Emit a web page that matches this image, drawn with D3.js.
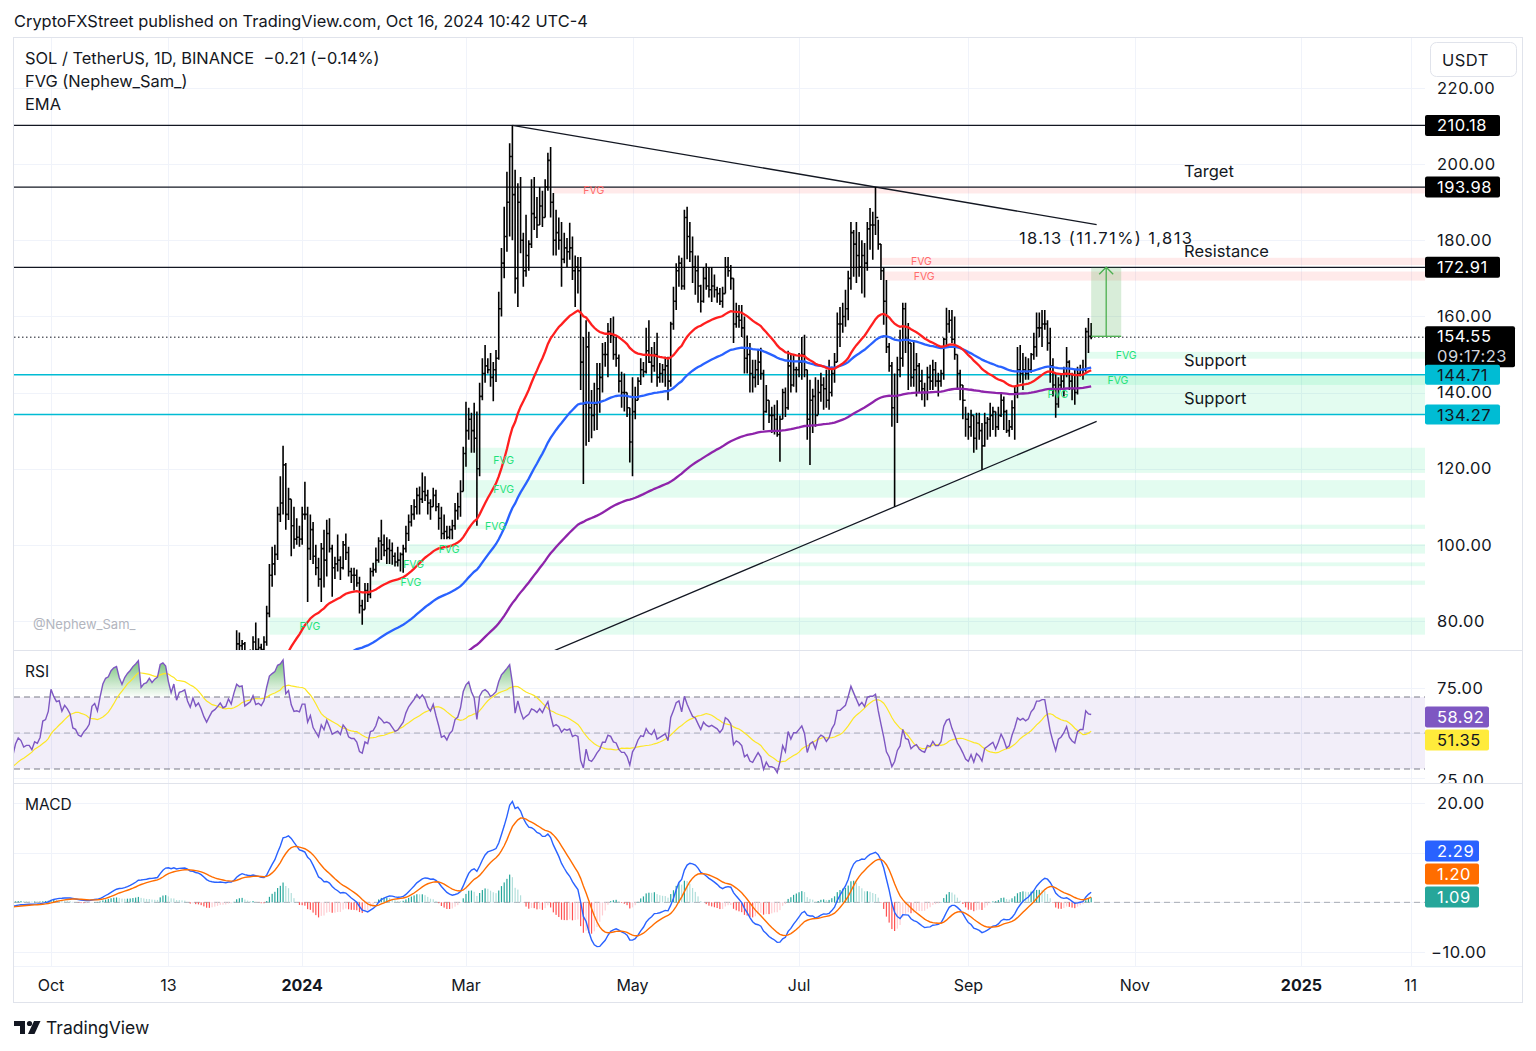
<!DOCTYPE html>
<html>
<head>
<meta charset="utf-8">
<script src="https://cdnjs.cloudflare.com/ajax/libs/d3/7.8.5/d3.min.js"></script>
<style>
  body { margin: 0; background: #fff; }
  text { font-family: Inter, "Noto Sans", sans-serif; fill: #131722; }
</style>
</head>
<body>
<svg id="chart" width="1536" height="1051"></svg>
<script>
// daily bars, [high, low, close]; open = previous close
var aug23 = [[25.0,24.2,24.6],[24.8,23.8,24.0],[24.2,22.9,23.1],[23.4,19.8,21.2],[21.8,20.6,21.3],[21.9,21.0,21.5],[22.2,21.3,21.9],[22.0,21.0,21.3],[21.4,20.2,20.7],[21.8,20.5,21.6],[21.8,21.0,21.3],[21.5,20.8,21.2],[21.3,20.9,21.0],[21.5,20.9,21.3],[21.3,20.6,20.9],[22.6,20.8,22.2],[22.3,21.0,21.1],[21.3,19.8,20.0]];
var sep23 = [[20.2,19.2,19.5],[19.9,19.3,19.7],[19.8,19.3,19.5],[19.7,19.0,19.2],[19.5,18.9,19.3],[19.6,19.1,19.4],[19.8,19.2,19.5],[19.6,18.8,19.0],[19.1,18.7,18.9],[19.0,18.2,18.4],[18.5,17.3,17.6],[18.7,17.6,18.4],[18.9,18.2,18.7],[19.5,18.6,19.3],[19.7,19.1,19.5],[19.6,19.0,19.1],[19.2,18.6,18.8],[19.8,18.7,19.5],[20.3,19.4,19.9],[20.1,19.4,19.7],[19.8,19.0,19.2],[19.5,19.0,19.3],[19.5,19.1,19.3],[19.4,18.9,19.0],[19.6,18.9,19.4],[19.5,19.1,19.3],[19.9,19.2,19.6],[20.8,19.5,20.6],[21.0,20.4,20.7],[21.5,20.6,21.3]];
var oct23 = [[24.2,21.2,23.8],[24.8,23.0,23.4],[23.8,22.7,23.1],[23.6,22.6,23.2],[23.4,22.3,22.6],[23.5,22.3,23.2],[23.4,22.7,23.0],[23.2,22.4,22.7],[22.8,21.4,21.8],[22.2,21.4,21.7],[21.9,21.0,21.3],[21.6,20.9,21.2],[21.8,21.0,21.5],[21.9,21.3,21.7],[22.3,21.5,22.0],[24.0,21.9,23.5],[24.1,23.0,23.8],[24.0,23.1,23.4],[25.4,23.2,25.0],[27.5,24.8,27.2],[28.9,26.8,28.6],[29.4,27.9,29.0],[31.2,28.4,31.0],[32.5,30.1,32.2],[33.4,31.8,32.8],[33.0,31.2,32.0],[32.3,30.8,31.5],[33.8,31.3,33.5],[35.3,33.0,35.0],[36.8,34.5,36.3],[38.8,35.9,38.3]];
var nov23 = [[40.6,37.8,40.0],[42.8,39.5,42.5],[42.6,38.5,39.5],[41.5,39.2,41.0],[42.0,40.3,41.5],[44.0,41.0,43.5],[44.2,41.5,43.0],[45.0,42.5,44.5],[46.5,43.0,45.5],[55.5,45.2,55.0],[57.5,53.0,57.0],[59.0,55.2,56.5],[57.2,52.8,54.0],[54.8,50.5,52.0],[57.6,51.5,57.0],[58.0,52.8,53.5],[58.5,53.0,58.0],[59.2,56.8,58.5],[60.0,57.5,59.5],[61.5,56.5,57.0],[58.0,53.0,55.5],[60.5,55.0,60.0],[60.8,57.2,58.0],[60.2,57.5,59.5],[60.0,57.6,58.0],[58.5,55.5,56.0],[56.8,53.5,54.5],[57.3,54.0,56.5],[59.2,56.0,58.5],[60.0,57.8,59.3]];
var dec23 = [[62.0,58.5,60.5],[63.0,59.5,62.0],[63.5,60.0,61.0],[63.0,59.5,61.5],[65.0,60.0,64.5],[66.0,62.0,63.5],[70.0,63.0,68.5],[77.6,67.5,74.0],[77.0,71.0,73.5],[75.0,70.5,74.0],[74.5,66.0,69.5],[72.0,66.0,70.5],[72.5,67.0,71.5],[76.0,70.5,74.5],[79.6,71.0,72.5],[75.5,71.0,73.0],[74.0,70.0,72.5],[76.0,70.5,74.5],[84.0,73.5,82.0],[95.0,81.0,92.0],[99.5,89.0,95.0],[100.0,92.0,97.5],[110.0,96.0,108.0],[118.0,106.0,111.0],[126.0,108.0,121.0],[121.5,104.0,108.0],[115.0,106.5,112.0],[112.0,97.0,105.0],[110.0,99.0,101.5],[107.0,100.0,102.0],[105.0,99.5,101.5]];
var jan24 = [[110,100,108],[116.6,106.6,108],[110,85,99],[108,96,104],[106,95,97],[100,92,94],[96.6,89,91],[100.5,85,99],[104,88.8,96],[106.6,91.7,103],[107,98,99],[100,86.4,94],[96.9,91,95],[102.7,93,96],[97,90.8,94],[101,93.5,100],[103,96,98],[99.5,91.7,93],[94,90,92],[94,88,92],[93.5,89,90],[91.6,82,84],[85.6,79,83],[90,83,88],[90,85,87],[94,86,93],[95.3,91.7,93.5],[99.3,92.7,96],[102,95.3,101],[106.6,96,100],[102.7,97,98.5]];
var feb24 = [[102,95,99],[101.5,95,98.5],[100.6,94.8,97],[98,94.3,95.5],[99.5,94.3,96],[98,93,97.5],[100,92.7,99],[105,98,103],[108,101,106],[110.5,104.8,108],[112,106.6,110],[115,108,113],[115.3,108,112],[119,111,114],[118,111.5,113],[114.5,108,111],[112,106.6,110],[115,110,113],[114.5,108.8,110],[111,104,107],[110,101.5,103],[108,101.5,103.5],[105,101.5,102],[105,101.5,104],[106.6,101.5,105],[111,104,109],[113.7,106.6,110],[117,107.4,114],[125.8,114,124]];
var mar24 = [[137.6,120.5,130],[136,127.6,133],[134.7,124.2,130],[137.3,124.2,128],[135,105,120],[142.6,118,139],[149,138,145],[152.5,142.6,147],[149,145,146],[150.4,141.5,144],[148,137.7,146],[151.2,142.8,149],[166.5,148.6,162],[178,160,174],[188.8,170,181],[198,177,190],[205.5,181,202],[210.18,180,192],[198.5,166,170],[195,162.5,190],[196.6,176.6,180],[182,167.8,172],[186.7,170.4,176],[180,172,179],[196,178,187],[196.6,182.7,186],[191.4,180.6,184],[194,184,189],[193,183.5,186],[196,186,194],[203,193,201]];
var apr24 = [[204.5,186,190],[192.4,176,180],[188,176,182],[186,177.5,180],[184.8,167.8,175],[182,174,178],[180.6,173,177],[184.6,174.9,178],[181,169.6,172],[176,162.5,173],[175.6,166,172],[175.6,140.7,148],[154.6,116,137],[159,126,152],[156,127,136],[140.7,128,134],[142.6,130,137],[147.8,130.2,141],[147.8,134.7,144],[153,140,150],[153.3,146.8,150],[158.3,144,156],[159.6,153,155],[160,148.6,150],[154.6,146.8,149],[150,140,143],[145.5,136,140],[145,135,140],[140,133.6,136],[136,121.6,127]];
var may24 = [[144,118,135],[141.5,133,138],[144,138,143],[149,142,146],[148,144,145.5],[157,145,151],[159,147.8,148],[152,142.6,147],[153.3,145.5,150],[155.7,141.5,144],[147.8,142.6,145],[147.5,142.6,146],[149.4,141.5,147],[149.4,138,143],[158.6,141.5,158],[167.8,156.5,164],[174,161.7,172],[176,167.8,174],[175.4,167,168],[188,167,186],[188.8,175,181],[184.8,174.3,177],[181,168.8,173],[176,165.7,172],[176,163.6,168],[168.3,161,164],[173,163.6,170],[174,167,168],[173,165,167],[173,163.8,168],[171,165,167]];
var jun24 = [[167.8,163.6,166],[167.5,163,164],[167.8,162.3,166],[175.6,166,173],[175.6,170.4,172],[173.5,167,170],[170,153,158],[163.6,157,160],[163,157,159],[163,154.6,157],[160,145,149],[155,145,150],[153,140,145],[148.6,140,144],[148.6,141.3,146],[151.2,142,148],[151.8,143.4,145],[146,130.2,135],[142,134.7,138],[138,132,134],[136.3,129.4,134],[136.8,129,133],[138,128.4,129],[134,121.8,133],[141,133,140],[141.3,133.6,136],[151,135.5,147],[150.4,140,142],[150,141.5,146],[146.8,140,146]];
var jul24 = [[150.4,144,148],[154.6,143.4,150],[155.2,144,146],[146,127.6,133],[143.4,121,138],[141,129.4,139],[144,131,134],[143.4,134.2,140],[145.2,137.6,142],[144,135.5,141],[146,136,138],[148.6,135.5,140],[146.8,139,145],[150.4,142.6,148],[161,148,158],[162.5,152,158],[163.6,155.7,160],[167,157.3,162],[172,159,170],[184.8,167,182],[182.7,170.4,179],[184.8,168.8,176],[182.2,170.4,173],[180,166,176],[179.3,165,174],[184.8,172,183],[188.5,177.5,184],[187.5,174.9,184],[193.98,181.4,186],[185.4,177.5,179],[179,169.6,172]];
var aug24 = [[172.7,157.8,164],[169.6,150.4,152],[153,145.5,147],[148,131,136],[145,110,139],[149.4,132,146],[156.5,144,149],[163.6,146.8,162],[163.6,150.4,154],[158.3,140.7,153],[153,141.5,144],[153.8,141.5,146],[150.4,139,147],[147.8,140,143],[146,138,141],[142.6,136.3,140],[146.8,138,144],[147.3,140.7,143],[148.6,140.7,146],[148,141.5,143],[145.2,139,143],[146,141.5,145],[154.4,143.4,154],[162.3,152,158],[161.7,155.7,159],[161.7,153,154],[160,148.6,150],[150,140.7,145],[146,138,142],[142,133,138],[136.3,128.4,133]];
var sep24 = [[134.7,127.6,131],[135.5,128.4,134],[134,124.2,128],[134.7,125,132],[134.7,127.6,130],[132,119.7,126],[134.7,125.8,132],[133.6,127.6,133],[137.3,128.4,134],[136.3,130.2,135],[135,128.4,131],[136.3,130.2,134],[140,133.6,138],[139,130.2,135],[135.5,129.4,130],[132.8,128.4,131],[138,130.2,136],[141.5,127.6,140],[152,138.5,146],[152.5,142.6,145],[150.4,140.7,146],[149.4,143.4,145],[149,143.4,146],[150.4,145.2,150],[155.7,148.6,152],[161,149.4,157],[161,154.6,157],[161.7,152,158],[161.7,156.5,158],[159,151,153]];
var oct24 = [[157,142.6,147],[149,139,142],[145.2,133.4,137],[144,136,142],[144.7,140.7,143],[146.8,139,145],[152,144,148],[148.5,140.7,143],[145.2,138,141],[146,136.8,140],[146.8,139.5,145],[147.3,144.2,146],[148.6,143.4,146],[157,145.5,156],[159.6,150.4,154.76],[158.3,154,154.55]];

var months = [["2023-08-14", aug23], ["2023-09-01", sep23], ["2023-10-01", oct23], ["2023-11-01", nov23],
    ["2023-12-01", dec23], ["2024-01-01", jan24], ["2024-02-01", feb24], ["2024-03-01", mar24],
    ["2024-04-01", apr24], ["2024-05-01", may24], ["2024-06-01", jun24], ["2024-07-01", jul24],
    ["2024-08-01", aug24], ["2024-09-01", sep24], ["2024-10-01", oct24]];

var priceTicks = [220, 200, 180, 160, 140, 120, 100, 80];
var timeTicks = [["2023-10-01", "Oct", false], ["2023-11-13", "13", false], ["2024-01-01", "2024", true],
    ["2024-03-01", "Mar", false], ["2024-05-01", "May", false], ["2024-07-01", "Jul", false],
    ["2024-09-01", "Sep", false], ["2024-11-01", "Nov", false], ["2025-01-01", "2025", true], ["2025-02-10", "11", false]];

var blackLevels = [210.18, 193.98, 172.91];
var cyanLevels = [144.71, 134.27];
var lastPrice = 154.55;
var countdown = "09:17:23";

// fair value gaps: start day, top, bottom, bullish?
var fvgZones = [
    ["2023-12-20", 80.9, 76.4, true], ["2024-01-26", 90.6, 89.5, true], ["2024-01-27", 95.4, 94.4, true],
    ["2024-02-09", 100.2, 97.7, true], ["2024-02-26", 105.3, 104.2, true], ["2024-02-29", 117.0, 112.4, true],
    ["2024-02-29", 125.5, 118.9, true], ["2024-04-02", 193.9, 192.3, false], ["2024-07-31", 175.4, 173.5, false],
    ["2024-08-01", 171.8, 169.4, false], ["2024-09-19", 144.5, 134.4, true], ["2024-10-11", 144.5, 142.0, true],
    ["2024-10-14", 150.7, 148.9, true]];

// trendlines: two anchors, drawn between from/to dates
var trendDown = [["2024-03-18", 210.18], ["2024-07-29", 193.98], "2024-03-18", "2024-10-18"];
var trendUp = [["2024-08-05", 110.0], ["2024-09-06", 119.7], "2024-03-25", "2024-10-18"];

var measure = {from: "2024-10-16", to: "2024-10-27", base: 154.78, top: 172.91, label: "18.13 (11.71%) 1,813"};
var notes = [["Target", 198.2], ["Resistance", 177.2], ["Support", 148.6], ["Support", 138.6]];

var rsiLast = 58.92, rsiMaLast = 51.35;
var macdLast = 2.29, signalLast = 1.20, histLast = 1.09;

var day = function(s) { return new Date(s + "T00:00:00Z"); };

var bars = [];
months.forEach(function(m) {
    m[1].forEach(function(r, i) {
        bars.push({date: d3.utcDay.offset(day(m[0]), i), high: r[0], low: r[1], close: r[2]});
    });
});
bars.forEach(function(b, i) { b.open = i ? bars[i - 1].close : b.close; });
var closes = bars.map(function(b) { return b.close; });

function ema(vals, n) {
    var k = 2 / (n + 1), e = vals[0];
    return vals.map(function(v, i) { if (i) e = v * k + e * (1 - k); return e; });
}
function rsi(vals, n) {
    var out = [null], ag = 0, al = 0;
    for (var i = 1; i < vals.length; i++) {
        var ch = vals[i] - vals[i - 1], g = Math.max(ch, 0), l = Math.max(-ch, 0);
        if (i <= n) { ag += g / n; al += l / n; out.push(i < n ? null : 100 - 100 / (1 + ag / al)); }
        else { ag = (ag * (n - 1) + g) / n; al = (al * (n - 1) + l) / n; out.push(al === 0 ? 100 : 100 - 100 / (1 + ag / al)); }
    }
    return out;
}
function sma(vals, n) {
    return vals.map(function(v, i) {
        if (i < n - 1) return null;
        var s = vals.slice(i - n + 1, i + 1);
        if (s.some(function(d) { return d == null; })) return null;
        return d3.mean(s);
    });
}

var ema50 = ema(closes, 50), ema100 = ema(closes, 100), ema200 = ema(closes, 200);
var rsiVals = rsi(closes, 14), rsiMa = sma(rsiVals, 14);
var e12 = ema(closes, 12), e26 = ema(closes, 26);
var macd = e12.map(function(v, i) { return v - e26[i]; });
var signal = ema(macd, 9);
var hist = macd.map(function(v, i) { return v - signal[i]; });

// layout
var left = 14, right = 1425, axisR = 1522;
var x = d3.scaleUtc().domain([day("2023-10-01"), day("2025-01-01")]).range([51, 1301.4]);
var y = d3.scaleLinear().domain([80, 220]).range([621, 88]);
var yR = d3.scaleLinear().domain([25, 75]).range([778, 688]);
var yM = d3.scaleLinear().domain([-10, 20]).range([952, 803]);

var svg = d3.select("#chart");
var defs = svg.append("defs");
function clip(id, x0, y0, x1, y1) {
    defs.append("clipPath").attr("id", id).append("rect")
        .attr("x", x0).attr("y", y0).attr("width", x1 - x0).attr("height", y1 - y0);
}
clip("cpPrice", left, 38, right, 650);
clip("cpRsi", left, 651, right, 783);
clip("cpMacd", left, 784, right, 966);
clip("cpAxPrice", right, 80, axisR, 650);
clip("cpAxRsi", right, 651, axisR, 783);

svg.append("text").attr("x", 14).attr("y", 21).attr("dy", "0.35em")
    .style("font-size", "16.4px").text("CryptoFXStreet published on TradingView.com, Oct 16, 2024 10:42 UTC-4");

svg.append("rect").attr("x", 13.5).attr("y", 37.5).attr("width", 1509).attr("height", 965)
    .attr("fill", "#fff").attr("stroke", "#e0e3eb");

// grid
var grid = svg.append("g").attr("stroke", "#f0f3fa").attr("stroke-width", 1);
priceTicks.forEach(function(t) {
    grid.append("line").attr("x1", left).attr("x2", right).attr("y1", Math.round(y(t)) + 0.5).attr("y2", Math.round(y(t)) + 0.5);
});
[75, 50, 25].forEach(function(t) {
    grid.append("line").attr("x1", left).attr("x2", right).attr("y1", Math.round(yR(t)) + 0.5).attr("y2", Math.round(yR(t)) + 0.5);
});
[20, 10, 0, -10].forEach(function(t) {
    grid.append("line").attr("x1", left).attr("x2", right).attr("y1", Math.round(yM(t)) + 0.5).attr("y2", Math.round(yM(t)) + 0.5);
});
timeTicks.forEach(function(t) {
    var xx = Math.round(x(day(t[0]))) + 0.5;
    grid.append("line").attr("x1", xx).attr("x2", xx).attr("y1", 38).attr("y2", 966);
});

// pane separators
var sep = svg.append("g").attr("stroke", "#e0e3eb");
sep.append("line").attr("x1", left).attr("x2", axisR).attr("y1", 650.5).attr("y2", 650.5);
sep.append("line").attr("x1", left).attr("x2", axisR).attr("y1", 783.5).attr("y2", 783.5);
sep.append("line").attr("x1", left).attr("x2", axisR).attr("y1", 966.5).attr("y2", 966.5).attr("stroke", "#f0f3fa");

// ---------- price pane ----------
var gp = svg.append("g").attr("clip-path", "url(#cpPrice)");

fvgZones.forEach(function(z) {
    var x0 = x(day(z[0]));
    gp.append("rect").attr("x", x0).attr("width", right - x0)
        .attr("y", y(z[1])).attr("height", y(z[2]) - y(z[1]))
        .attr("fill", z[3] ? "rgba(0,230,118,0.11)" : "rgba(255,82,82,0.12)");
});

blackLevels.forEach(function(v) {
    gp.append("line").attr("x1", left).attr("x2", right).attr("y1", y(v)).attr("y2", y(v))
        .attr("stroke", "#131722").attr("stroke-width", 1.2);
});
cyanLevels.forEach(function(v) {
    gp.append("line").attr("x1", left).attr("x2", right).attr("y1", y(v)).attr("y2", y(v))
        .attr("stroke", "#00bcd4").attr("stroke-width", 1.5);
});
gp.append("line").attr("x1", left).attr("x2", right).attr("y1", y(lastPrice)).attr("y2", y(lastPrice))
    .attr("stroke", "#131722").attr("stroke-width", 1).attr("stroke-dasharray", "1.5,2.5");

function trend(t) {
    var d0 = day(t[0][0]), d1 = day(t[1][0]);
    var slope = (t[1][1] - t[0][1]) / (d1 - d0);
    var a = day(t[2]), b = day(t[3]);
    gp.append("line")
        .attr("x1", x(a)).attr("y1", y(t[0][1] + slope * (a - d0)))
        .attr("x2", x(b)).attr("y2", y(t[0][1] + slope * (b - d0)))
        .attr("stroke", "#131722").attr("stroke-width", 1.3);
}
trend(trendDown);
trend(trendUp);

// OHLC bars
var barPath = "";
bars.forEach(function(b) {
    var cx = x(b.date);
    barPath += "M" + cx + "," + y(b.high) + "V" + y(b.low) +
        "M" + (cx - 1.3) + "," + y(b.open) + "H" + cx +
        "M" + cx + "," + y(b.close) + "H" + (cx + 1.3);
});
gp.append("path").attr("d", barPath).attr("fill", "none").attr("stroke", "#000").attr("stroke-width", 1.6);

function emaLine(vals, color) {
    gp.append("path").datum(vals)
        .attr("d", d3.line().x(function(d, i) { return x(bars[i].date); }).y(function(d) { return y(d); }))
        .attr("fill", "none").attr("stroke", color).attr("stroke-width", 2.3);
}
emaLine(ema200, "#8e24aa");
emaLine(ema100, "#2962ff");
emaLine(ema50, "#ff1f1f");

// measurement tool
var mx0 = x(day(measure.from)), mx1 = x(day(measure.to)), mxc = (mx0 + mx1) / 2;
gp.append("rect").attr("x", mx0).attr("width", mx1 - mx0).attr("y", y(measure.top))
    .attr("height", y(measure.base) - y(measure.top)).attr("fill", "rgba(76,175,80,0.22)");
gp.append("line").attr("x1", mx0).attr("x2", mx1).attr("y1", y(measure.base)).attr("y2", y(measure.base))
    .attr("stroke", "#4caf50").attr("stroke-width", 1.3);
gp.append("path")
    .attr("d", "M" + mxc + "," + y(measure.base) + "V" + y(measure.top) +
        "M" + (mxc - 7) + "," + (y(measure.top) + 7) + "L" + mxc + "," + y(measure.top) + "L" + (mxc + 7) + "," + (y(measure.top) + 7))
    .attr("fill", "none").attr("stroke", "#4caf50").attr("stroke-width", 1.3);
gp.append("text").attr("x", mxc).attr("y", y(measure.top) - 29).attr("dy", "0.35em")
    .attr("text-anchor", "middle").style("font-size", "16.5px").style("letter-spacing", "1.4px").text(measure.label);

notes.forEach(function(n) {
    gp.append("text").attr("x", 1184).attr("y", y(n[1])).attr("dy", "0.35em")
        .style("font-size", "16.5px").text(n[0]);
});

fvgZones.forEach(function(z) {
    gp.append("text").attr("x", x(day(z[0])) + 30).attr("y", y((z[1] + z[2]) / 2)).attr("dy", "0.35em")
        .style("font-size", "10.5px").style("fill", z[3] ? "#1de27a" : "#ff6b6b").text("FVG");
});

gp.append("text").attr("x", 33).attr("y", 624).attr("dy", "0.35em")
    .style("font-size", "13px").style("fill", "#b2b5be").text("@Nephew_Sam_");

// legend
[["SOL / TetherUS, 1D, BINANCE  \u22120.21 (\u22120.14%)", 58], ["FVG (Nephew_Sam_)", 81], ["EMA", 104]].forEach(function(l) {
    svg.append("text").attr("x", 25).attr("y", l[1]).attr("dy", "0.35em")
        .style("font-size", "16.4px").style("white-space", "pre").attr("xml:space", "preserve").text(l[0]);
});

// price axis
var axP = svg.append("g").attr("clip-path", "url(#cpAxPrice)");
priceTicks.forEach(function(t) {
    axP.append("text").attr("x", 1437).attr("y", y(t)).attr("dy", "0.35em")
        .style("font-size", "16.5px").style("letter-spacing", "0.5px").text(t.toFixed(2));
});
function tag(g, yy, w, h, fill, lines, color) {
    g.append("rect").attr("x", right).attr("y", yy - h / 2).attr("width", w).attr("height", h)
        .attr("rx", 2).attr("fill", fill);
    lines.forEach(function(l, i) {
        g.append("text").attr("x", 1437).attr("y", yy - h / 2 + 10.5 + i * 19.5).attr("dy", "0.35em")
            .style("font-size", "16.5px").style("letter-spacing", "0.5px")
            .style("fill", i ? "#d1d4dc" : color).text(l);
    });
}
blackLevels.forEach(function(v) { tag(svg, y(v), 75, 21, "#000", [v.toFixed(2)], "#fff"); });
tag(svg, y(lastPrice) + 9.5, 90, 41, "#000", [lastPrice.toFixed(2), countdown], "#fff");
cyanLevels.forEach(function(v) { tag(svg, y(v), 75, 20, "#00bcd4", [v.toFixed(2)], "#131722"); });

svg.append("rect").attr("x", 1430.5).attr("y", 42.5).attr("width", 86).attr("height", 34).attr("rx", 6)
    .attr("fill", "#fff").attr("stroke", "#e0e3eb");
svg.append("text").attr("x", 1442).attr("y", 60).attr("dy", "0.35em").style("font-size", "16.5px")
    .style("letter-spacing", "0.5px").text("USDT");

// ---------- RSI pane ----------
svg.append("text").attr("x", 25).attr("y", 672).attr("dy", "0.35em").style("font-size", "15.5px").text("RSI");
var gr = svg.append("g").attr("clip-path", "url(#cpRsi)");
gr.append("rect").attr("x", left).attr("width", right - left).attr("y", yR(70)).attr("height", yR(30) - yR(70))
    .attr("fill", "rgba(126,87,194,0.1)");
var grad = defs.append("linearGradient").attr("id", "obFill").attr("gradientUnits", "userSpaceOnUse")
    .attr("x1", 0).attr("x2", 0).attr("y1", yR(90)).attr("y2", yR(70));
grad.append("stop").attr("offset", 0).attr("stop-color", "rgba(76,175,80,0.75)");
grad.append("stop").attr("offset", 1).attr("stop-color", "rgba(76,175,80,0.02)");
var rsiPts = rsiVals.map(function(v, i) { return {d: bars[i].date, v: v}; });
gr.append("path").datum(rsiPts)
    .attr("d", d3.area().defined(function(p) { return p.v != null; })
        .x(function(p) { return x(p.d); }).y0(yR(70)).y1(function(p) { return yR(Math.max(p.v, 70)); }))
    .attr("fill", "url(#obFill)");
[[70, "#787b86"], [50, "rgba(120,123,134,0.55)"], [30, "#787b86"]].forEach(function(l) {
    gr.append("line").attr("x1", left).attr("x2", right).attr("y1", yR(l[0])).attr("y2", yR(l[0]))
        .attr("stroke", l[1]).attr("stroke-dasharray", "6,4");
});
gr.append("path").datum(rsiMa.map(function(v, i) { return {d: bars[i].date, v: v}; }))
    .attr("d", d3.line().defined(function(p) { return p.v != null; }).x(function(p) { return x(p.d); }).y(function(p) { return yR(p.v); }))
    .attr("fill", "none").attr("stroke", "#fde725").attr("stroke-width", 1.2);
gr.append("path").datum(rsiPts)
    .attr("d", d3.line().defined(function(p) { return p.v != null; }).x(function(p) { return x(p.d); }).y(function(p) { return yR(p.v); }))
    .attr("fill", "none").attr("stroke", "#7e57c2").attr("stroke-width", 1.4);

var axR = svg.append("g").attr("clip-path", "url(#cpAxRsi)");
[75, 25].forEach(function(t) {
    axR.append("text").attr("x", 1437).attr("y", yR(t) + (t === 25 ? 2 : 0)).attr("dy", "0.35em")
        .style("font-size", "16.5px").style("letter-spacing", "0.5px").text(t.toFixed(2));
});
function stack(items, dir) {
    var prev = null;
    items.forEach(function(it) {
        var yy = it.y;
        if (prev != null && Math.abs(yy - prev) < 23) yy = prev + dir * 23;
        it.y = yy; prev = yy;
    });
    return items;
}
stack([{v: rsiLast, y: yR(rsiLast), c: "#7e57c2", t: "#fff"}, {v: rsiMaLast, y: yR(rsiMaLast), c: "#ffeb3b", t: "#131722"}], 1)
    .forEach(function(it) { tag(svg, it.y, 64, 21, it.c, [it.v.toFixed(2)], it.t); });

// ---------- MACD pane ----------
svg.append("text").attr("x", 25).attr("y", 805).attr("dy", "0.35em").style("font-size", "15.5px").text("MACD");
var gm = svg.append("g").attr("clip-path", "url(#cpMacd)");
gm.append("line").attr("x1", left).attr("x2", right).attr("y1", yM(0)).attr("y2", yM(0))
    .attr("stroke", "rgba(120,123,134,0.6)").attr("stroke-dasharray", "6,4");
hist.forEach(function(h, i) {
    var prev = i ? hist[i - 1] : h;
    var col = h >= 0 ? (h > prev ? "#26a69a" : "#b2dfdb") : (h < prev ? "#ff5252" : "#ffcdd2");
    var cx = x(bars[i].date);
    gm.append("rect").attr("x", cx - 0.6).attr("width", 1.2)
        .attr("y", Math.min(yM(h), yM(0))).attr("height", Math.abs(yM(h) - yM(0)))
        .attr("fill", col);
});
function macdLine(vals, color) {
    gm.append("path").datum(vals)
        .attr("d", d3.line().x(function(d, i) { return x(bars[i].date); }).y(function(d) { return yM(d); }))
        .attr("fill", "none").attr("stroke", color).attr("stroke-width", 1.4);
}
macdLine(macd, "#2962ff");
macdLine(signal, "#ff6d00");

[20, -10].forEach(function(t) {
    svg.append("text").attr("x", t < 0 ? 1431 : 1437).attr("y", yM(t)).attr("dy", "0.35em")
        .style("font-size", "16.5px").style("letter-spacing", "0.5px")
        .text(t < 0 ? "\u2212" + Math.abs(t).toFixed(2) : t.toFixed(2));
});
stack([{v: histLast, y: yM(histLast), c: "#26a69a"}, {v: signalLast, y: yM(signalLast), c: "#ff6d00"}, {v: macdLast, y: yM(macdLast), c: "#2962ff"}], -1)
    .forEach(function(it) { tag(svg, it.y, 54, 21, it.c, [it.v.toFixed(2)], "#fff"); });

// time axis
timeTicks.forEach(function(t) {
    svg.append("text").attr("x", x(day(t[0]))).attr("y", 985).attr("dy", "0.35em").attr("text-anchor", "middle")
        .style("font-size", "16px").style("font-weight", t[2] ? "700" : "400").text(t[1]);
});

// footer logo
svg.append("path").attr("d", "M14,1021h11v13h-5v-8h-6z").attr("fill", "#131722");
svg.append("circle").attr("cx", 29.5).attr("cy", 1023.5).attr("r", 2.6).attr("fill", "#131722");
svg.append("path").attr("d", "M34,1021h6.5l-6,13h-6.5z").attr("fill", "#131722");
svg.append("text").attr("x", 46).attr("y", 1028).attr("dy", "0.35em").style("font-size", "17.5px").text("TradingView");
</script>
</body>
</html>
